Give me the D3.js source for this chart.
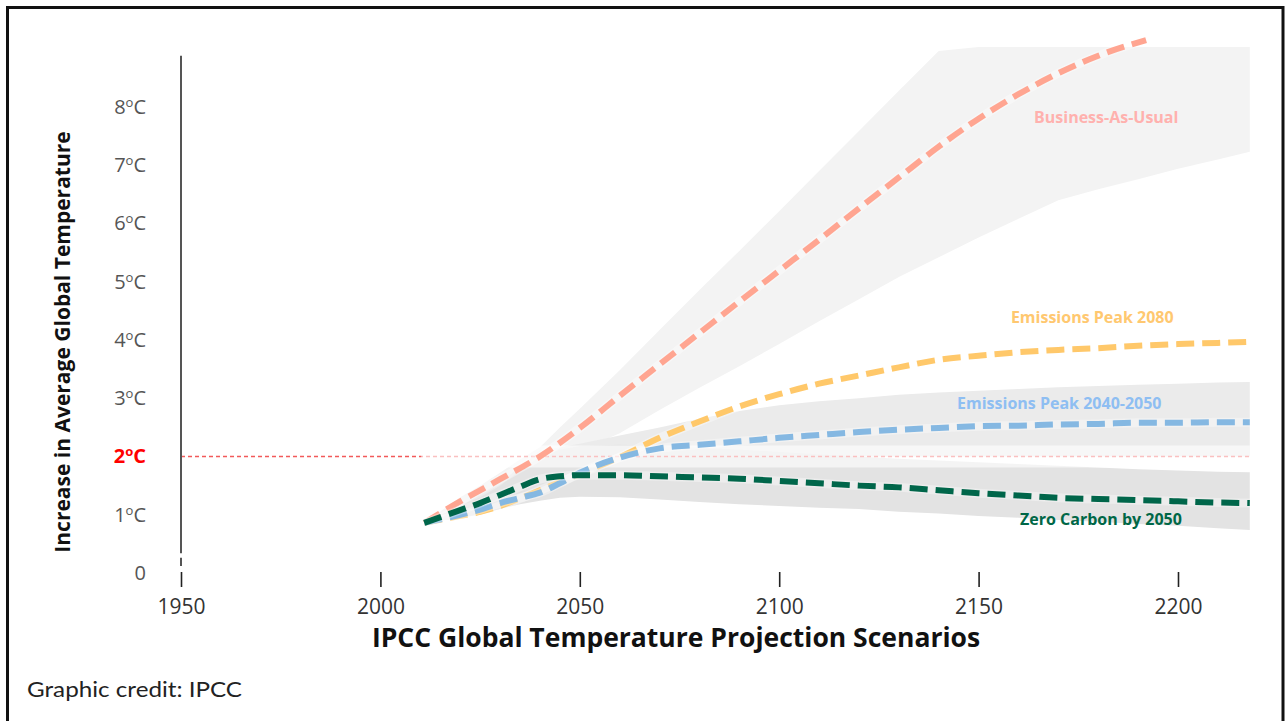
<!DOCTYPE html>
<html><head><meta charset="utf-8">
<script src="https://cdn.jsdelivr.net/npm/d3@7"></script>
<style>body{margin:0;background:#fff;} svg{display:block;}</style>
</head><body>
<svg id="chart" width="1286" height="721"></svg>
<script>
// ---------- DATA ----------
const years      = [2011,2020,2025,2030,2035,2040,2045,2050,2060,2070,2080,2090,2100,2110,2120,2130,2140,2150,2160,2170,2180,2190,2200,2210,2218];
const zeroCarbon = [0.86,1.08,1.20,1.34,1.48,1.61,1.66,1.68,1.68,1.66,1.64,1.62,1.58,1.54,1.50,1.47,1.42,1.37,1.33,1.29,1.27,1.25,1.23,1.21,1.20];
const peak2040   = [0.86,1.00,1.09,1.20,1.29,1.38,1.54,1.72,1.98,2.14,2.20,2.26,2.32,2.37,2.42,2.46,2.49,2.52,2.53,2.55,2.56,2.58,2.58,2.59,2.59];
const peak2080   = [0.86,0.98,1.05,1.15,1.28,1.42,1.56,1.70,1.99,2.32,2.60,2.86,3.07,3.25,3.39,3.53,3.66,3.73,3.79,3.83,3.86,3.90,3.93,3.95,3.97];
const bauYears   = [2011,2020,2030,2040,2050,2060,2070,2080,2090,2100,2110,2120,2130,2140,2150,2160,2170,2180,2192];
const bau        = [0.86,1.23,1.61,2.00,2.49,3.04,3.58,4.12,4.66,5.19,5.72,6.26,6.79,7.32,7.80,8.22,8.58,8.88,9.15];

// uncertainty ranges
const bauHigh  = [0.86,1.30,1.50,1.72,1.95,2.16,2.50,2.82,3.48,4.17,4.86,5.53,6.21,6.90,7.59,8.28,8.96,9.03,9.03,9.03,9.03,9.03,9.03,9.03,9.03];
const bauLow   = [0.86,0.95,1.05,1.15,1.30,1.50,1.80,2.10,2.40,2.80,3.18,3.55,3.93,4.32,4.70,5.08,5.42,5.76,6.08,6.40,6.59,6.76,6.94,7.10,7.23];
const midHigh  = [0.86,1.15,1.35,1.55,1.82,2.10,2.16,2.22,2.36,2.50,2.65,2.78,2.88,2.95,3.00,3.06,3.10,3.13,3.16,3.19,3.21,3.23,3.25,3.27,3.28];
const midLow   = [0.86,0.95,1.00,1.10,1.20,1.35,1.50,1.65,1.80,1.90,1.95,2.00,2.00,2.00,2.00,2.00,2.00,2.00,2.00,2.00,2.00,2.00,2.00,2.00,2.00];
const zeroHigh = [0.86,1.15,1.30,1.50,1.75,2.00,2.12,2.18,2.20,2.18,2.15,2.12,2.08,2.04,2.00,1.96,1.93,1.90,1.87,1.84,1.81,1.78,1.76,1.74,1.73];
const zeroLow  = [0.86,0.95,1.02,1.10,1.18,1.24,1.29,1.31,1.30,1.26,1.22,1.18,1.15,1.12,1.10,1.05,1.02,0.98,0.95,0.91,0.88,0.84,0.81,0.77,0.74];

const xTicks = [1950,2000,2050,2100,2150,2200];
const yTicks = [0,1,2,3,4,5,6,7,8];
const threshold = 2;

const labels = [
  {text:"Business-As-Usual",        year:2163.9, temp:7.73, color:"#ffb1ae"},
  {text:"Emissions Peak 2080",      year:2158.1, temp:4.29, color:"#ffc870"},
  {text:"Emissions Peak 2040-2050", year:2144.6, temp:2.82, color:"#8ebef2"},
  {text:"Zero Carbon by 2050",      year:2160.4, temp:0.82, color:"#006747"}
];

// ---------- CHART ----------
const svg = d3.select('#chart');
const x = d3.scaleLinear().domain([1950,2200]).range([181,1178]);
const y = d3.scaleLinear().domain([0,8]).range([573,107]);
const FONT = "'Open Sans', sans-serif";

// frame
svg.append('rect').attr('x',7.5).attr('y',7.5).attr('width',1275.5).attr('height',730)
  .attr('fill','none').attr('stroke','#111').attr('stroke-width',3);

// bands
function band(lo, hi, col){
  const area = d3.area().curve(d3.curveLinear)
    .x((d,i)=>x(years[i])).y0((d,i)=>y(lo[i])).y1((d,i)=>y(hi[i]));
  svg.append('path').attr('d', area(years)).attr('fill', col);
}
band(bauLow, bauHigh, '#f3f3f3');
band(midLow, midHigh, '#ebebeb');
band(zeroLow, zeroHigh, '#e3e3e3');

// 2°C reference line
svg.append('line').attr('x1',x(1950)).attr('x2',x(years[years.length-1]))
  .attr('y1',y(threshold)).attr('y2',y(threshold))
  .attr('stroke','#f25a5a').attr('stroke-width',1.4).attr('stroke-dasharray','4,3');
// faded strip over projection area
svg.append('rect').attr('x',x(years[0])-3).attr('width',x(years[years.length-1])-x(years[0])+3)
  .attr('y',y(threshold)-11).attr('height',22).attr('fill','#fff').attr('opacity',0.62);

// axes
const yAxisG = svg.append('g').attr('transform',`translate(${x(1950)},0)`)
  .call(d3.axisLeft(y).tickValues(yTicks).tickSize(0).tickPadding(35));
yAxisG.select('.domain').remove();
yAxisG.selectAll('text').each(function(d){
  const t = d3.select(this).text('')
    .attr('font-family',FONT).attr('font-size',20)
    .attr('fill', d===threshold ? '#ff0000' : '#555')
    .attr('font-weight', d===threshold ? 700 : 400);
  t.append('tspan').text(d);
  if(d!==0){
    t.append('tspan').text('o').attr('font-size',13).attr('dy',-7);
    t.append('tspan').text('C').attr('dy',7);
  }
});
// vertical axis line
svg.append('line').attr('x1',x(1950)).attr('x2',x(1950))
  .attr('y1',y(8.88)).attr('y2',y(0.34)).attr('stroke','#555').attr('stroke-width',2);
svg.append('line').attr('x1',x(1950)).attr('x2',x(1950))
  .attr('y1',y(0.26)).attr('y2',y(0.12)).attr('stroke','#555').attr('stroke-width',2);

const xAxisG = svg.append('g').attr('transform',`translate(0,${y(0)-1})`)
  .call(d3.axisBottom(x).tickValues(xTicks).tickSize(15).tickPadding(12).tickFormat(d3.format('d')));
xAxisG.select('.domain').remove();
xAxisG.selectAll('line').attr('stroke','#222').attr('stroke-width',1.6);
xAxisG.selectAll('text').attr('font-family',FONT).attr('font-size',21).attr('fill','#333');

// series lines
function series(xs, vals, col){
  const line = d3.line().curve(d3.curveMonotoneX).x((d,i)=>x(xs[i])).y(d=>y(d));
  svg.append('path').attr('d', line(vals)).attr('fill','none')
    .attr('stroke','#fff').attr('stroke-opacity',0.35).attr('stroke-width',9);
  svg.append('path').attr('d', line(vals)).attr('fill','none')
    .attr('stroke',col).attr('stroke-width',6).attr('stroke-dasharray','18,8');
}
series(bauYears, bau, '#ffa591');
series(years, peak2080, '#ffc86a');
series(years, peak2040, '#85b8e2');
series(years, zeroCarbon, '#00664a');

// series labels
svg.selectAll('text.lbl').data(labels).enter().append('text').attr('class','lbl')
  .attr('x',d=>x(d.year)).attr('y',d=>y(d.temp)).text(d=>d.text)
  .attr('fill',d=>d.color).attr('font-family',FONT).attr('font-weight',700).attr('font-size',16);

// axis titles
svg.append('text').attr('transform',`translate(70,342) rotate(-90)`).attr('text-anchor','middle')
  .attr('font-family',FONT).attr('font-weight',700).attr('font-size',21).attr('fill','#111')
  .text('Increase in Average Global Temperature');
svg.append('text').attr('x',676).attr('y',647).attr('text-anchor','middle')
  .attr('font-family',FONT).attr('font-weight',700).attr('font-size',26.5).attr('fill','#111')
  .text('IPCC Global Temperature Projection Scenarios');

// credit
svg.append('text').attr('x',27).attr('y',697).attr('font-family',"Lato, sans-serif").attr('font-size',21)
  .attr('textLength',215).attr('lengthAdjust','spacingAndGlyphs')
  .attr('fill','#222').text('Graphic credit: IPCC');
</script>
</body></html>
